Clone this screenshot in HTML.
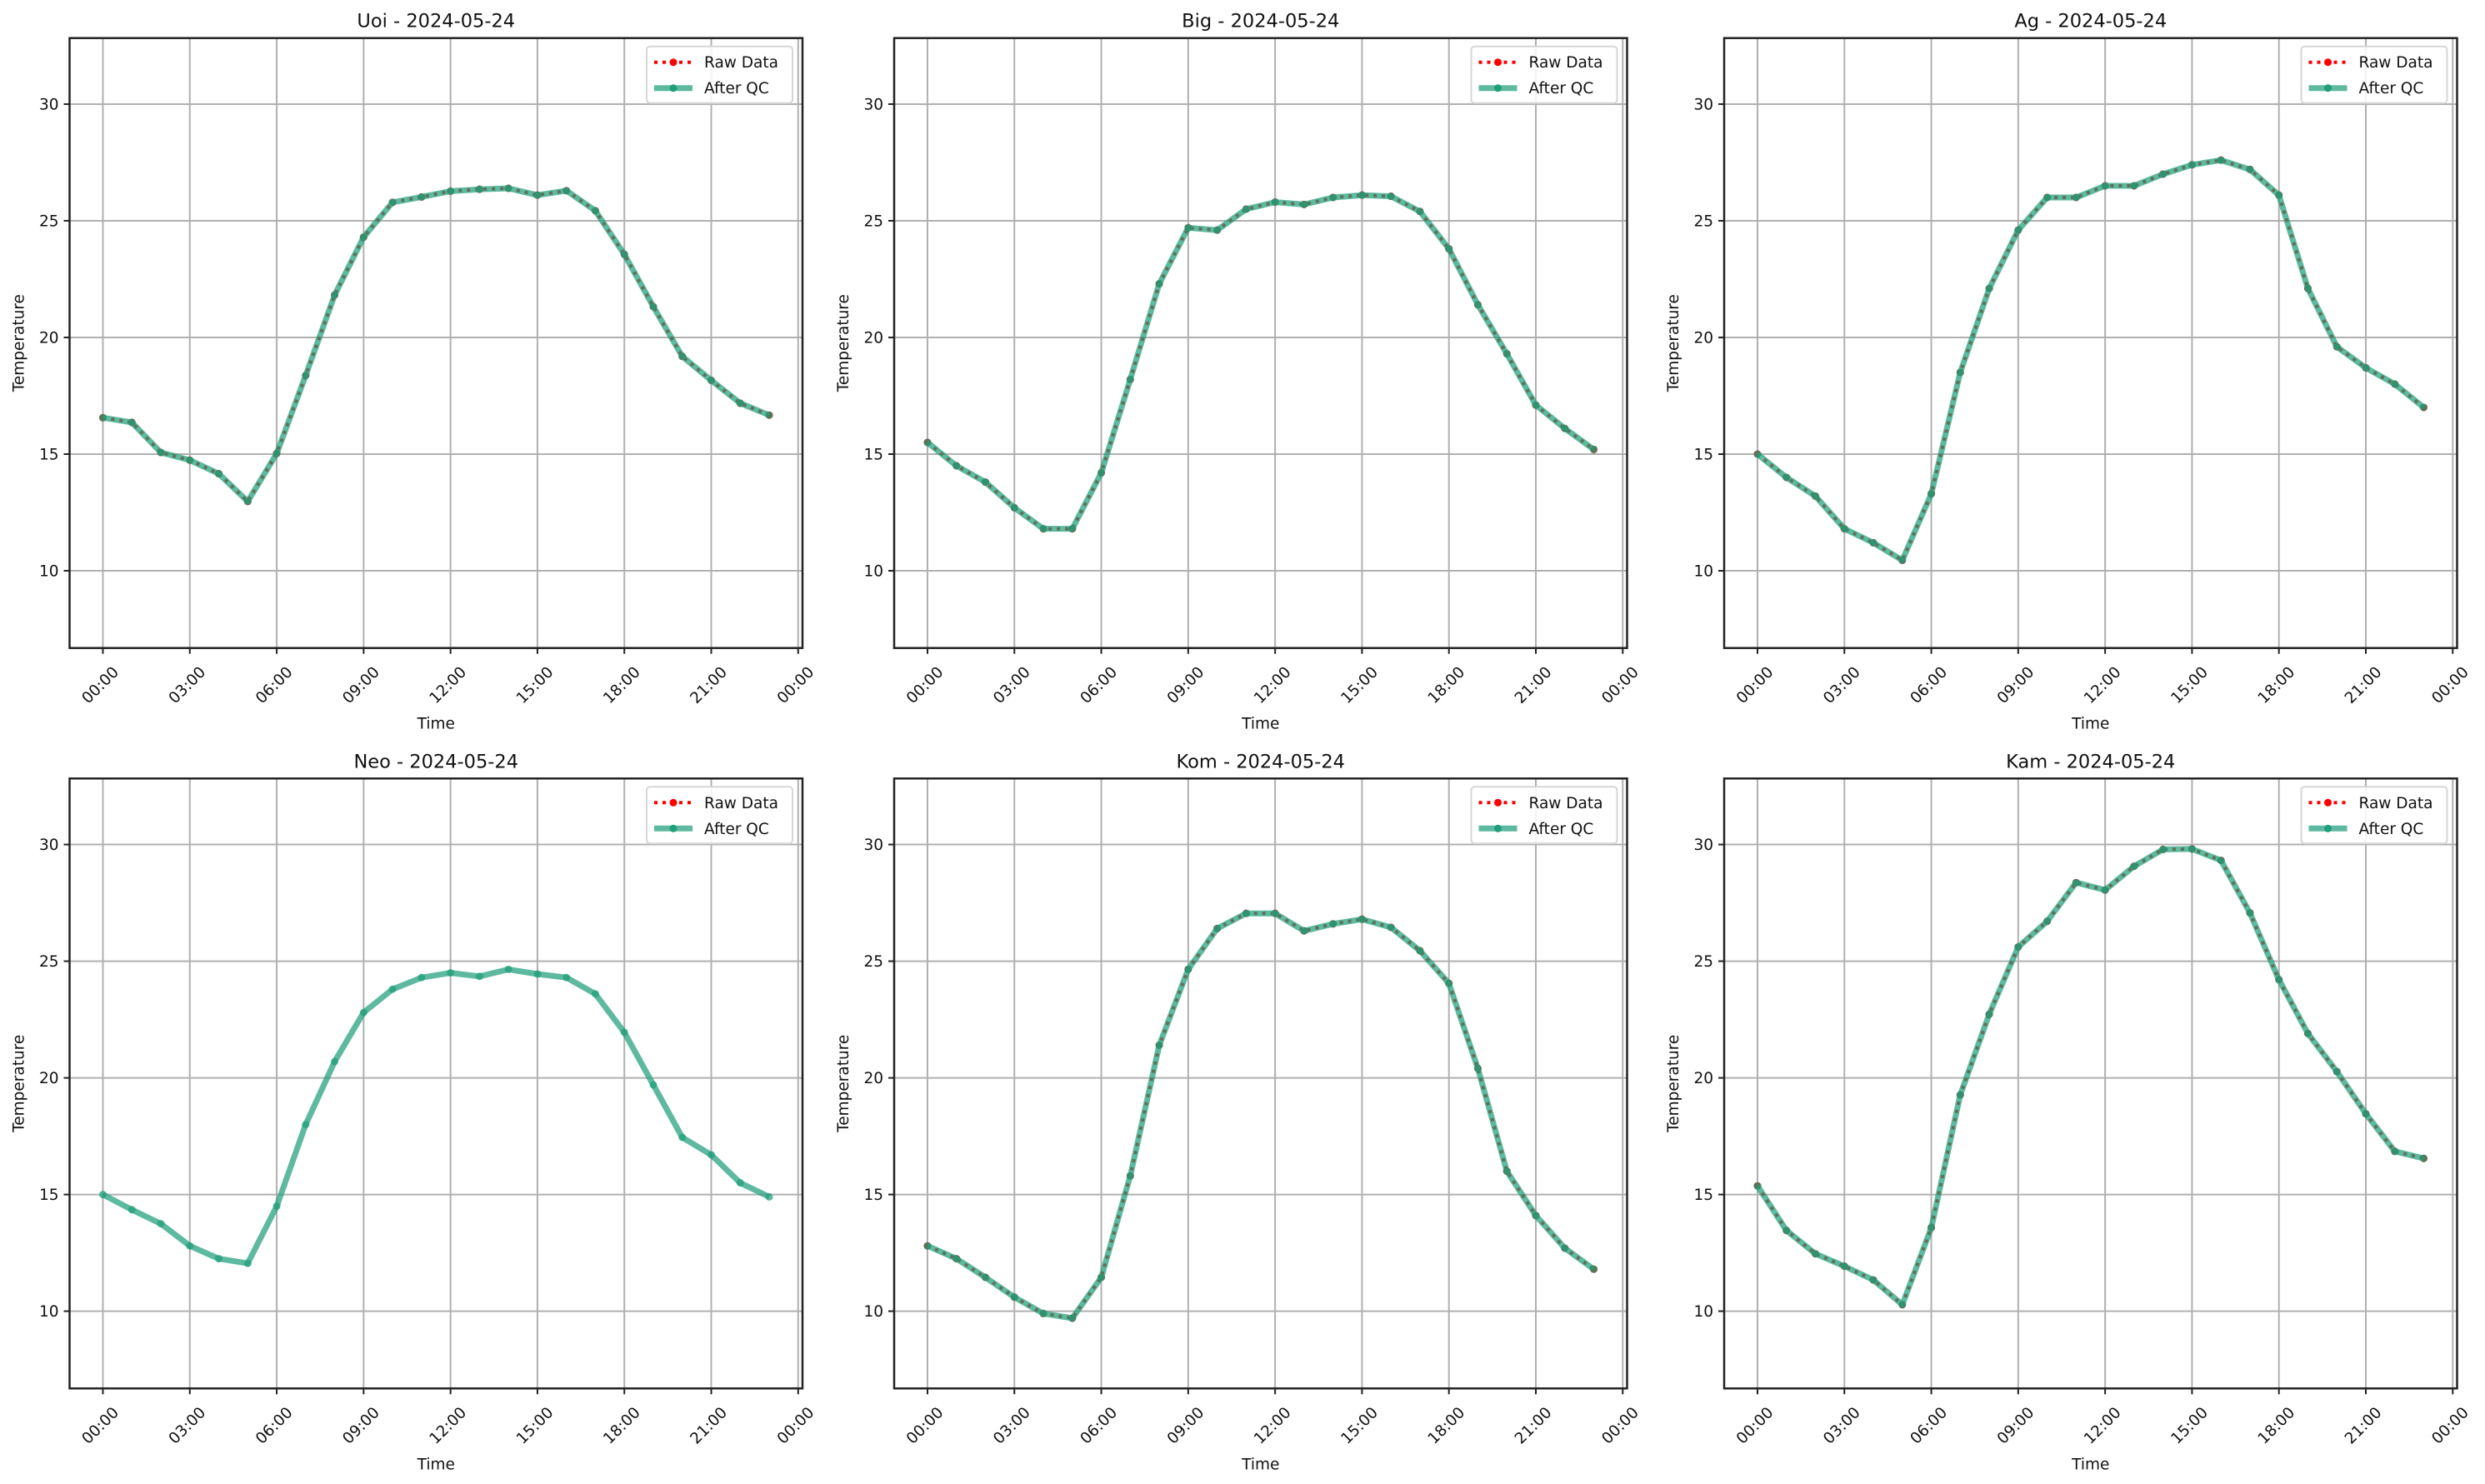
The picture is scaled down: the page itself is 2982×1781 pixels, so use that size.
<!DOCTYPE html>
<html><head><meta charset="utf-8"><style>
html,body{margin:0;padding:0;background:#fff;}
svg{display:block;font-family:"DejaVu Sans","Liberation Sans",sans-serif;}
</style></head><body>
<svg id="fig" width="2982" height="1781" viewBox="0 0 2982 1781" xmlns="http://www.w3.org/2000/svg"></svg>
<script>
const hours = [0,1,2,3,4,5,6,7,8,9,10,11,12,13,14,15,16,17,18,19,20,21,22,23];
const stationNames = ["Uoi","Big","Ag","Neo","Kom","Kam"];
const dateLabel = "2024-05-24";
const tempUoi = [16.56,16.36,15.07,14.74,14.16,12.97,15.03,18.37,21.82,24.30,25.79,26.02,26.27,26.35,26.39,26.10,26.29,25.43,23.56,21.32,19.19,18.16,17.18,16.67];
const tempBig = [15.5,14.5,13.8,12.7,11.8,11.8,14.2,18.2,22.3,24.7,24.6,25.5,25.8,25.7,26.0,26.1,26.05,25.4,23.8,21.4,19.3,17.1,16.1,15.2];
const tempAg = [15.0,14.0,13.2,11.8,11.2,10.45,13.3,18.5,22.1,24.6,26.0,26.0,26.5,26.5,27.0,27.4,27.6,27.2,26.1,22.1,19.6,18.7,18.0,17.0];
const tempNeo = [15.0,14.35,13.75,12.8,12.25,12.05,14.5,18.0,20.7,22.8,23.8,24.3,24.5,24.35,24.65,24.45,24.3,23.6,21.95,19.7,17.45,16.7,15.5,14.9];
const tempKom = [12.8,12.25,11.45,10.6,9.9,9.7,11.45,15.8,21.4,24.65,26.4,27.05,27.05,26.3,26.6,26.8,26.45,25.45,24.05,20.4,16.0,14.1,12.7,11.8];
const tempKam = [15.37,13.46,12.46,11.93,11.34,10.28,13.58,19.27,22.73,25.61,26.71,28.37,28.05,29.07,29.79,29.81,29.32,27.07,24.21,21.90,20.27,18.46,16.85,16.55];
const showRaw = [true,true,true,false,true,true];
const yTicks = [10,15,20,25,30];
const xTicks = [0,3,6,9,12,15,18,21,24];
const xTickLabels = ["00:00","03:00","06:00","09:00","12:00","15:00","18:00","21:00","00:00"];

const series = [tempUoi,tempBig,tempAg,tempNeo,tempKom,tempKam];
const NS = "http://www.w3.org/2000/svg";
const svg = document.getElementById('fig');
function mk(tag, attrs, parent){const e=document.createElementNS(NS,tag);for(const k in attrs)e.setAttribute(k,attrs[k]);(parent||svg).appendChild(e);return e;}

const lefts=[83.5,1073,2069], tops=[45.7,934.3];
const W=879.5, H=732;
const xMin=-1.15, xMax=24.15, yMin=6.69, yMax=32.83;
const QC='#1f9e7a';

series.forEach((vals,i)=>{
  const L=lefts[i%3], T=tops[Math.floor(i/3)];
  const sx=h=>L+(h-xMin)/(xMax-xMin)*W;
  const sy=v=>T+H-(v-yMin)/(yMax-yMin)*H;
  const g=mk('g',{});
  
  
  xTicks.forEach(t=>{const l=mk('line',{x1:sx(t),x2:sx(t),y1:T,y2:T+H,stroke:'#b0b0b0','stroke-width':2},g);});
  yTicks.forEach(t=>{const l=mk('line',{x1:L,x2:L+W,y1:sy(t),y2:sy(t),stroke:'#b0b0b0','stroke-width':2},g);});
  const pts=hours.map((h,k)=>sx(h).toFixed(1)+','+sy(vals[k]).toFixed(1)).join(' ');
  if(showRaw[i]){
    const r=mk('polyline',{points:pts,fill:'none',stroke:'#ff0000','stroke-width':4,'stroke-dasharray':'4 6'},g);
    
    hours.forEach((h,k)=>{const c=mk('circle',{cx:sx(h),cy:sy(vals[k]),r:4.5,fill:'#ff0000'},g);});
  }
  const q=mk('polyline',{points:pts,fill:'none',stroke:QC,'stroke-width':7,'stroke-opacity':0.72,'stroke-linejoin':'round'},g);
  
  hours.forEach((h,k)=>{const c=mk('circle',{cx:sx(h),cy:sy(vals[k]),r:4.5,fill:QC,'fill-opacity':0.72},g);});
  const f=mk('rect',{x:L,y:T,width:W,height:H,fill:'none',stroke:'#222','stroke-width':2.5},g);
  
  yTicks.forEach(t=>{
    mk('line',{x1:L-7,x2:L,y1:sy(t),y2:sy(t),stroke:'#222','stroke-width':2},g);
    const tx=mk('text',{x:L-13,y:sy(t)+6.5,'text-anchor':'end','font-size':18.5,fill:'#111'},g);
    tx.textContent=t;
  });
  xTicks.forEach((t,k)=>{
    mk('line',{x1:sx(t),x2:sx(t),y1:T+H,y2:T+H+7,stroke:'#222','stroke-width':2},g);
    const ax=sx(t)+20, ay=T+H+30;
    const tx=mk('text',{x:ax,y:ay,'text-anchor':'end','font-size':18.5,fill:'#111',transform:`rotate(-45 ${ax} ${ay})`},g);
    tx.textContent=xTickLabels[k];
  });
  const title=mk('text',{x:L+W/2,y:T-13,'text-anchor':'middle','font-size':22.5,fill:'#111'},g);
  title.textContent=stationNames[i]+' - '+dateLabel;
  const xl=mk('text',{x:L+W/2,y:T+H+97,'text-anchor':'middle','font-size':18.5,fill:'#111'},g);
  xl.textContent='Time';
  const yx=L-55, yy=T+H/2;
  const yl=mk('text',{x:yx,y:yy,'text-anchor':'middle','font-size':18.5,fill:'#111',transform:`rotate(-90 ${yx} ${yy})`},g);
  yl.textContent='Temperature';
  const lg=mk('g',{},g);
  const bx=L+W-187, by=T+10;
  mk('rect',{x:bx,y:by,width:175,height:68,rx:4,fill:'#fff','fill-opacity':0.85,stroke:'#d6d6d6','stroke-width':2},lg);
  const y1=by+19, y2=by+50;
  const e1=mk('g',{},lg);
  mk('line',{x1:bx+9,x2:bx+55,y1:y1,y2:y1,stroke:'#ff0000','stroke-width':4,'stroke-dasharray':'4 6'},e1);
  mk('circle',{cx:bx+32,cy:y1,r:4.5,fill:'#ff0000'},e1);
  const t1=mk('text',{x:bx+69,y:y1+6.5,'font-size':18.5,fill:'#111'},e1);t1.textContent='Raw Data';
  const e2=mk('g',{},lg);
  mk('line',{x1:bx+9,x2:bx+55,y1:y2,y2:y2,stroke:QC,'stroke-width':7,'stroke-opacity':0.72},e2);
  mk('circle',{cx:bx+32,cy:y2,r:4.5,fill:QC},e2);
  const t2=mk('text',{x:bx+69,y:y2+6.5,'font-size':18.5,fill:'#111'},e2);t2.textContent='After QC';
});
</script>
</body></html>
